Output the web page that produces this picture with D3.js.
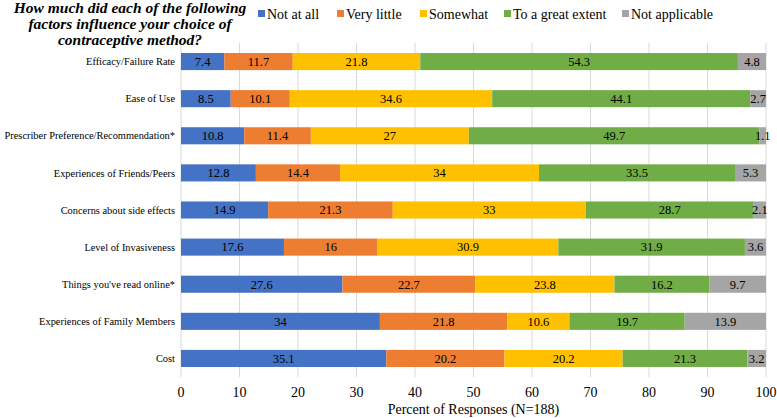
<!DOCTYPE html>
<html>
<head>
<meta charset="utf-8">
<script src="https://cdn.jsdelivr.net/npm/d3@7"></script>
<style>
  body { margin: 0; background: #fff; }
</style>
</head>
<body>
<div id="chart"></div>
<script>
var categories = [
    "Efficacy/Failure Rate",
    "Ease of Use",
    "Prescriber Preference/Recommendation*",
    "Experiences of Friends/Peers",
    "Concerns about side effects",
    "Level of Invasiveness",
    "Things you've read online*",
    "Experiences of Family Members",
    "Cost"
];
var seriesNames = ["Not at all", "Very little", "Somewhat", "To a great extent", "Not applicable"];
var notAtAll   = [7.4, 8.5, 10.8, 12.8, 14.9, 17.6, 27.6, 34, 35.1];
var veryLittle = [11.7, 10.1, 11.4, 14.4, 21.3, 16, 22.7, 21.8, 20.2];
var somewhat   = [21.8, 34.6, 27, 34, 33, 30.9, 23.8, 10.6, 20.2];
var greatExtent = [54.3, 44.1, 49.7, 33.5, 28.7, 31.9, 16.2, 19.7, 21.3];
var notApplicable = [4.8, 2.7, 1.1, 5.3, 2.1, 3.6, 9.7, 13.9, 3.2];
var xTicks = [0, 10, 20, 30, 40, 50, 60, 70, 80, 90, 100];

var colors = ["#4472C4", "#ED7D31", "#FFC000", "#70AD47", "#A5A5A5"];
var allSeries = [notAtAll, veryLittle, somewhat, greatExtent, notApplicable];

var width = 777, height = 418;
var plotLeft = 181, plotRight = 766, plotTop = 43, plotBottom = 377;

var svg = d3.select("#chart").append("svg")
    .attr("width", width)
    .attr("height", height)
    .attr("font-family", "'Liberation Serif', 'Times New Roman', serif");

var x = d3.scaleLinear().domain([0, 100]).range([plotLeft, plotRight]);
var y = d3.scaleBand().domain(categories).range([plotTop, plotBottom]).paddingInner(0.54).paddingOuter(0.27);

// gridlines
svg.append("g").selectAll("line")
    .data(xTicks)
    .enter().append("line")
    .attr("x1", function (d) { return x(d); })
    .attr("x2", function (d) { return x(d); })
    .attr("y1", plotTop)
    .attr("y2", plotBottom)
    .attr("stroke", "#d9d9d9")
    .attr("stroke-width", 1);

// stacked rows
var rows = categories.map(function (c, i) {
    var row = { cat: c };
    seriesNames.forEach(function (s, j) { row[s] = allSeries[j][i]; });
    return row;
});
var stack = d3.stack().keys(seriesNames)(rows);

var layers = svg.append("g").selectAll("g")
    .data(stack)
    .enter().append("g")
    .attr("fill", function (d, i) { return colors[i]; });

layers.selectAll("rect")
    .data(function (d) { return d; })
    .enter().append("rect")
    .attr("x", function (d) { return x(d[0]); })
    .attr("y", function (d) { return y(d.data.cat); })
    .attr("width", function (d) { return x(d[1]) - x(d[0]); })
    .attr("height", y.bandwidth());

layers.selectAll("text")
    .data(function (d) { return d; })
    .enter().append("text")
    .attr("x", function (d) { return (x(d[0]) + x(d[1])) / 2; })
    .attr("y", function (d) { return y(d.data.cat) + y.bandwidth() / 2; })
    .attr("dy", "0.35em")
    .attr("text-anchor", "middle")
    .attr("font-size", "12.5px")
    .attr("fill", "#000")
    .text(function (d) { return d[1] - d[0] > 0 ? +(d[1] - d[0]).toFixed(1) : ""; });

// category labels
svg.append("g").selectAll("text")
    .data(categories)
    .enter().append("text")
    .attr("x", plotLeft - 6)
    .attr("y", function (d) { return y(d) + y.bandwidth() / 2; })
    .attr("dy", "0.35em")
    .attr("text-anchor", "end")
    .attr("font-size", "10.4px")
    .attr("fill", "#000")
    .text(function (d) { return d; });

// x tick labels
svg.append("g").selectAll("text")
    .data(xTicks)
    .enter().append("text")
    .attr("x", function (d) { return x(d); })
    .attr("y", 397)
    .attr("text-anchor", "middle")
    .attr("font-size", "14px")
    .attr("fill", "#000")
    .text(function (d) { return d; });

svg.append("text")
    .attr("x", (plotLeft + plotRight) / 2)
    .attr("y", 414)
    .attr("text-anchor", "middle")
    .attr("font-size", "14px")
    .attr("fill", "#000")
    .text("Percent of Responses (N=188)");

// title
var titleLines = ["How much did each of the following", "factors influence your choice of", "contraceptive method?"];
svg.append("g").selectAll("text")
    .data(titleLines)
    .enter().append("text")
    .attr("x", 130)
    .attr("y", function (d, i) { return 13 + i * 16; })
    .attr("text-anchor", "middle")
    .attr("font-size", "15.5px")
    .attr("font-weight", "bold")
    .attr("font-style", "italic")
    .attr("fill", "#000")
    .text(function (d) { return d; });

// legend
var legendX = [258, 337, 420, 504, 622];
var legend = svg.append("g").selectAll("g")
    .data(seriesNames)
    .enter().append("g")
    .attr("transform", function (d, i) { return "translate(" + legendX[i] + ",13)"; });
legend.append("rect")
    .attr("x", 0).attr("y", -3)
    .attr("width", 7).attr("height", 7)
    .attr("fill", function (d, i) { return colors[i]; });
legend.append("text")
    .attr("x", 9)
    .attr("y", 1)
    .attr("dy", "0.35em")
    .attr("font-size", "14px")
    .attr("fill", "#000")
    .text(function (d) { return d; });
</script>
</body>
</html>
